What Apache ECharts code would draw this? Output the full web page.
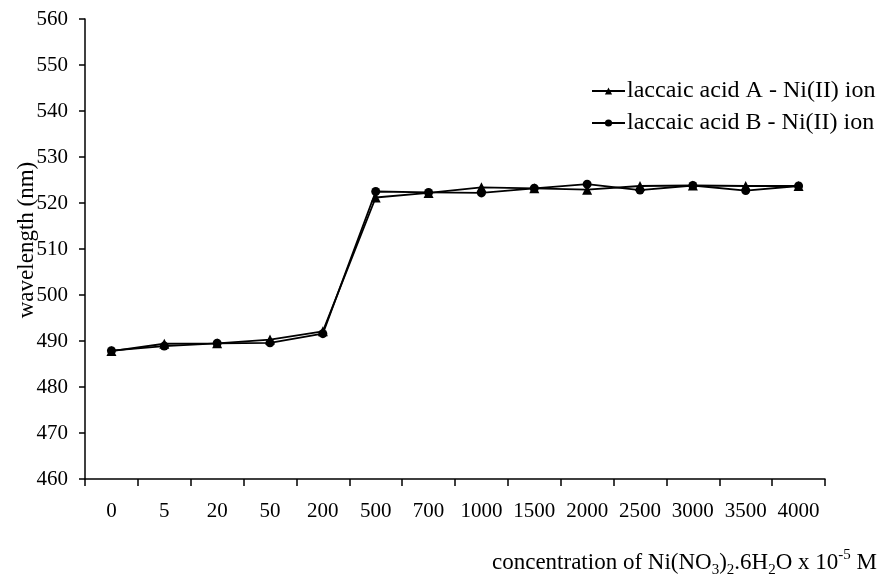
<!DOCTYPE html>
<html>
<head>
<meta charset="utf-8">
<script src="https://cdn.jsdelivr.net/npm/echarts@6/dist/echarts.min.js"></script>
<style>
  html, body { margin: 0; padding: 0; background: #fff; }
  #chart { width: 879px; height: 582px; }
</style>
</head>
<body>
<div id="chart"></div>
<script>
// Ni(NO3)2 concentration steps (x 10^-5 M)
const concentrations = ['0', '5', '20', '50', '200', '500', '700', '1000', '1500', '2000', '2500', '3000', '3500', '4000'];

// Absorption maximum (nm) of each laccaic acid complex
const acidA = [487.8, 489.4, 489.5, 490.3, 492.1, 521.2, 522.2, 523.4, 523.2, 522.9, 523.7, 523.8, 523.7, 523.7];
const acidB = [487.9, 488.9, 489.5, 489.6, 491.6, 522.5, 522.3, 522.2, 523.2, 524.1, 522.8, 523.8, 522.7, 523.7];

const seriesNames = ['laccaic acid A - Ni(II) ion', 'laccaic acid B - Ni(II) ion'];

const FONT = '"Liberation Serif", "DejaVu Serif", serif';
const INK = '#000';

const chart = echarts.init(document.getElementById('chart'));

chart.setOption({
  backgroundColor: '#fff',
  animation: false,
  textStyle: { fontFamily: FONT, color: INK },
  grid: { left: 85, right: 54, top: 19, bottom: 103, containLabel: false },
  legend: {
    orient: 'vertical',
    left: 586,
    top: 74,
    itemWidth: 33,
    itemHeight: 9,
    itemGap: 8,
    textStyle: { fontFamily: FONT, fontSize: 24, color: INK, padding: [0, 0, 0, -3] },
    data: seriesNames
  },
  xAxis: {
    type: 'category',
    data: concentrations,
    boundaryGap: true,
    axisLine: { lineStyle: { color: INK, width: 1.5 } },
    axisTick: { show: true, length: 7, lineStyle: { color: INK, width: 1.5 } },
    axisLabel: { color: INK, fontFamily: FONT, fontSize: 21, margin: 22, interval: 0, hideOverlap: false },
    splitLine: { show: false }
  },
  yAxis: {
    type: 'value',
    min: 460,
    max: 560,
    interval: 10,
    axisLine: { show: true, lineStyle: { color: INK, width: 1.5 } },
    axisTick: { show: true, length: 6, lineStyle: { color: INK, width: 1.5 } },
    axisLabel: { color: INK, fontFamily: FONT, fontSize: 21, margin: 17 },
    splitLine: { show: false }
  },
  series: [
    {
      name: seriesNames[0],
      type: 'line',
      data: acidA,
      symbol: 'triangle',
      symbolSize: 10,
      itemStyle: { color: INK },
      lineStyle: { color: INK, width: 1.8 },
      z: 3
    },
    {
      name: seriesNames[1],
      type: 'line',
      data: acidB,
      symbol: 'circle',
      symbolSize: 9,
      itemStyle: { color: INK },
      lineStyle: { color: INK, width: 1.8 },
      z: 2
    }
  ],
  graphic: [
    {
      type: 'text',
      x: 27,
      y: 240,
      rotation: Math.PI / 2,
      style: {
        text: 'wavelength (nm)',
        fontFamily: FONT,
        fontSize: 23,
        fill: INK,
        align: 'center',
        verticalAlign: 'middle'
      }
    },
    {
      type: 'text',
      x: 877,
      y: 563,
      style: {
        text: 'concentration of Ni(NO{sub|3}){sub|2}.6H{sub|2}O x 10{sup|-5} M',
        fontFamily: FONT,
        fontSize: 23,
        lineHeight: 30,
        fill: INK,
        align: 'right',
        verticalAlign: 'middle',
        rich: {
          sub: { fontFamily: FONT, fontSize: 15, lineHeight: 15, verticalAlign: 'bottom', fill: INK },
          sup: { fontFamily: FONT, fontSize: 15, lineHeight: 15, verticalAlign: 'top', fill: INK }
        }
      }
    }
  ]
});
</script>
</body>
</html>
